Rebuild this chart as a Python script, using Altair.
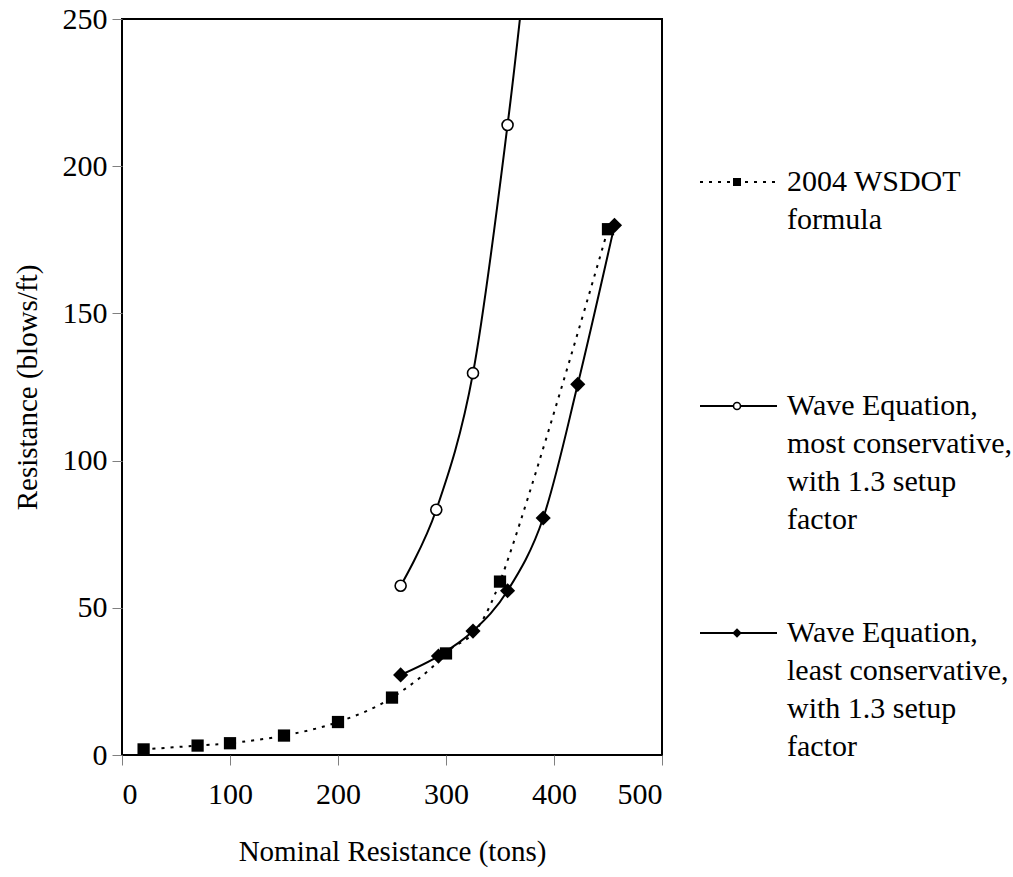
import altair as alt
import pandas as pd

# 2004 WSDOT formula
wsdot_x = [20, 70, 100, 150, 200, 250, 300, 350, 450]
wsdot_y = [1.9, 3.2, 4.0, 6.6, 11.2, 19.5, 34.5, 58.9, 178.6]

# Wave equation, most conservative (last point lies above the axis range)
most_x = [258, 291, 325, 357, 380]
most_y = [57.5, 83.3, 129.7, 214.0, 290.0]

# Wave equation, least conservative
least_x = [258, 293, 325, 357, 390, 422, 456]
least_y = [27.2, 33.6, 42.1, 55.8, 80.5, 125.9, 179.9]

legend_lines = [
    ["2004 WSDOT", "formula"],
    ["Wave Equation,", "most conservative,", "with 1.3 setup", "factor"],
    ["Wave Equation,", "least conservative,", "with 1.3 setup", "factor"],
]

FONT = "Liberation Serif"
FS = 30
W, H = 540, 736

df_w = pd.DataFrame({"x": wsdot_x, "y": wsdot_y})
df_m = pd.DataFrame({"x": most_x, "y": most_y})
df_l = pd.DataFrame({"x": least_x, "y": least_y})

xs = alt.Scale(domain=[0, 500], nice=False)
ys = alt.Scale(domain=[0, 250], nice=False)

x_enc = alt.X(
    "x:Q", scale=xs, title="Nominal Resistance (tons)",
    axis=alt.Axis(values=[0, 100, 200, 300, 400, 500], labelPadding=14,
                  titlePadding=28, titleFontSize=29),
)
y_enc = alt.Y(
    "y:Q", scale=ys, title="Resistance (blows/ft)",
    axis=alt.Axis(values=[0, 50, 100, 150, 200, 250], labelPadding=5,
                  titlePadding=20, titleFontSize=29),
)

def line(df, dash=None):
    kw = dict(interpolate="cardinal", clip=True, color="black", strokeWidth=2)
    if dash:
        kw["strokeDash"] = dash
    return alt.Chart(df).mark_line(**kw).encode(x=x_enc, y=y_enc)

line_w = line(df_w, [3, 6])
line_m = line(df_m)
line_l = line(df_l)

pts_w = alt.Chart(df_w).mark_point(shape="square", filled=True, color="black", size=150, opacity=1).encode(x=x_enc, y=y_enc)
pts_m = alt.Chart(df_m).mark_point(shape="circle", filled=True, fill="white", stroke="black",
                                     strokeWidth=1.6, size=121, opacity=1, clip=True).encode(x=x_enc, y=y_enc)
pts_l = alt.Chart(df_l).mark_point(shape="diamond", filled=True, color="black", size=230, opacity=1).encode(x=x_enc, y=y_enc)

# Legend, drawn to the right of the plot frame
LX0, LX1, LXM, LTX = 578, 655, 615, 665
legend_y = [163, 387, 614]
LH = 38

legend_layers = []
dashes = [[3, 6], None, None]
shapes = ["square", "circle", "diamond"]
sizes = [64, 49, 90]
for i in range(3):
    kw = dict(color="black", strokeWidth=2)
    if dashes[i]:
        kw["strokeDash"] = dashes[i]
    legend_layers.append(
        alt.Chart(pd.DataFrame({"k": [0]})).mark_rule(**kw).encode(
            x=alt.value(LX0), x2=alt.value(LX1), y=alt.value(legend_y[i]))
    )
    if shapes[i] == "circle":
        mk = alt.Chart(pd.DataFrame({"k": [0]})).mark_point(
            shape="circle", filled=True, fill="white", stroke="black", strokeWidth=1.6,
            size=sizes[i], opacity=1)
    else:
        mk = alt.Chart(pd.DataFrame({"k": [0]})).mark_point(
            shape=shapes[i], filled=True, color="black", size=sizes[i], opacity=1)
    legend_layers.append(mk.encode(x=alt.value(LXM), y=alt.value(legend_y[i])))
    txt = pd.DataFrame({"t": legend_lines[i], "row": list(range(len(legend_lines[i])))})
    legend_layers.append(
        alt.Chart(txt).mark_text(align="left", baseline="middle", font=FONT, fontSize=FS, color="black")
        .transform_calculate(py=f"{legend_y[i]} + datum.row * {LH}")
        .encode(x=alt.value(LTX), y=alt.Y("py:Q", scale=None), text="t:N")
    )

chart = alt.layer(
    line_w, line_m, line_l, pts_w, pts_m, pts_l, *legend_layers
).properties(
    width=W, height=H,
    autosize=alt.AutoSizeParams(type="none"),
    padding={"left": 122, "top": 19, "right": 1013 - 122 - W, "bottom": 877 - 19 - H},
    background="white",
).configure_view(
    stroke="black", strokeWidth=2
).configure_axis(
    domain=False, grid=False, ticks=True, tickColor="#808080", tickSize=10, tickWidth=1,
    labelFont=FONT, labelFontSize=FS, labelColor="black",
    titleFont=FONT, titleFontWeight="normal", titleColor="black",
)

chart.save("out.html", embed_options={"renderer": "svg", "actions": False})
